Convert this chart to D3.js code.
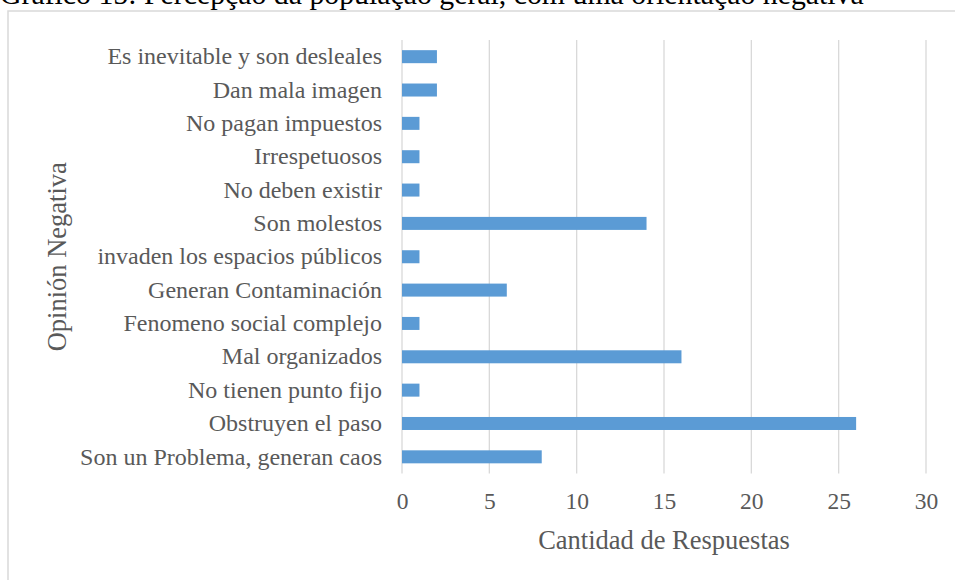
<html>
<head>
<meta charset="utf-8">
<style>
  body { margin: 0; background: #fff; }
  svg { display: block; }
</style>
</head>
<body>
<script src="https://d3js.org/d3.v7.min.js"></script>
<script>
// categories top -> bottom, as shown in the chart
var categories = [
  "Es inevitable y son desleales",
  "Dan mala imagen",
  "No pagan impuestos",
  "Irrespetuosos",
  "No deben existir ",
  "Son molestos ",
  "invaden los espacios públicos",
  "Generan Contaminación",
  "Fenomeno social complejo",
  "Mal organizados",
  "No tienen punto fijo",
  "Obstruyen el paso",
  "Son un Problema, generan caos"
];
var respuestas = [2, 2, 1, 1, 1, 14, 1, 6, 1, 16, 1, 26, 8];
var xTicks = [0, 5, 10, 15, 20, 25, 30];

var titleText = "Gráfico 15: Percepção da população geral, com uma orientação negativa";
var xTitle = "Cantidad de Respuestas";
var yTitle = "Opinión Negativa";

var w = 955, h = 580;
var plotLeft = 402, plotRight = 926, plotTop = 40, plotBottom = 473.5;
var serif = "Liberation Serif, Times New Roman, serif";

var svg = d3.select("body").append("svg")
  .attr("width", w)
  .attr("height", h);

// frame of the chart area (runs off the page right and bottom)
svg.append("rect")
  .attr("x", 8).attr("y", 11)
  .attr("width", 960).attr("height", 600)
  .attr("fill", "none")
  .attr("stroke", "#d9d9d9")
  .attr("stroke-width", 1.5);

svg.append("text")
  .attr("x", 0).attr("y", 4)
  .style("font-family", serif)
  .style("font-size", "29.8px")
  .attr("fill", "#000")
  .text(titleText);

var x = d3.scaleLinear().domain([0, 30]).range([plotLeft, plotRight]);
var y = d3.scaleBand().domain(categories).range([plotTop, plotBottom])
  .paddingInner(0.61).paddingOuter(0.305);

// gridlines
svg.append("g")
  .selectAll("line")
  .data(xTicks)
  .enter().append("line")
  .attr("x1", function(d) { return x(d); })
  .attr("x2", function(d) { return x(d); })
  .attr("y1", plotTop)
  .attr("y2", plotBottom)
  .attr("stroke", "#d9d9d9")
  .attr("stroke-width", 1.3);

svg.append("g")
  .selectAll("rect")
  .data(respuestas)
  .enter().append("rect")
  .attr("x", x(0))
  .attr("y", function(d, i) { return y(categories[i]); })
  .attr("width", function(d) { return x(d) - x(0); })
  .attr("height", y.bandwidth())
  .attr("fill", "#5b9bd5");

var xAxis = d3.axisBottom(x).tickValues(xTicks).tickSize(0).tickPadding(19);
var gx = svg.append("g")
  .attr("transform", "translate(0," + plotBottom + ")")
  .call(xAxis);
gx.select(".domain").remove();
gx.selectAll("text")
  .style("font-family", serif)
  .style("font-size", "23.5px")
  .attr("fill", "#595959");

var yAxis = d3.axisLeft(y).tickSize(0).tickPadding(20);
var gy = svg.append("g")
  .attr("transform", "translate(" + plotLeft + ",0)")
  .call(yAxis);
gy.select(".domain").remove();
gy.selectAll("text")
  .style("font-family", serif)
  .style("font-size", "24px")
  .attr("fill", "#595959");

svg.append("text")
  .attr("x", (plotLeft + plotRight) / 2)
  .attr("y", 549)
  .attr("text-anchor", "middle")
  .style("font-family", serif)
  .style("font-size", "26.5px")
  .attr("fill", "#595959")
  .text(xTitle);

svg.append("text")
  .attr("transform", "translate(66," + ((plotTop + plotBottom) / 2) + ") rotate(-90)")
  .attr("text-anchor", "middle")
  .style("font-family", serif)
  .style("font-size", "26.5px")
  .attr("fill", "#595959")
  .text(yTitle);
</script>
</body>
</html>
